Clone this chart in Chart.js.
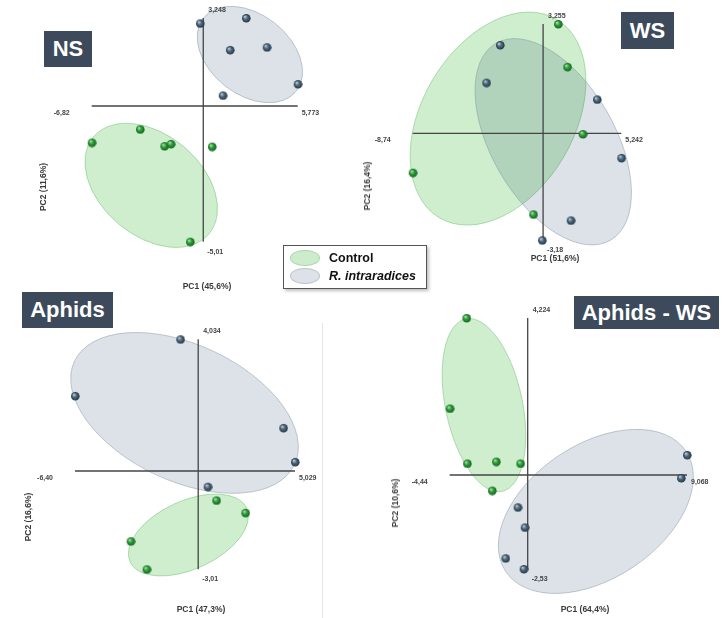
<!DOCTYPE html>
<html>
<head>
<meta charset="utf-8">
<script src="https://cdn.jsdelivr.net/npm/chart.js@4.4.1/dist/chart.umd.min.js"></script>
<style>
  body { margin: 0; width: 724px; height: 618px; background: #fff; position: relative; overflow: hidden;
         font-family: "Liberation Sans", Arial, sans-serif; }
  canvas.plot { position: absolute; left: 0; top: 0; }
  .panel-title { position: absolute; background: #3c4a5c; color: #fff; font-weight: bold; font-size: 22px;
                 display: flex; align-items: center; justify-content: center; white-space: nowrap; }
  .axis-title { position: absolute; font-size: 8.5px; font-weight: bold; color: #3a3a3a; white-space: nowrap;
                transform: translate(-50%, -50%); }
  .axis-title.v { transform: translate(-50%, -50%) rotate(-90deg); }
  .divider { position: absolute; left: 322px; top: 323px; width: 1px; height: 295px; background: #e6e6e6; }
  .legend { position: absolute; left: 283px; top: 245px; width: 142px; height: 42px; border: 1px solid #555;
            background: #fff; box-shadow: 2px 2px 3px rgba(0,0,0,0.25); }
  .legend .row { position: absolute; left: 6px; height: 16px; display: flex; align-items: center; }
  .legend .sw { width: 28px; height: 14px; border-radius: 50%; margin-right: 9px; }
  .legend .txt { font-size: 12.5px; font-weight: bold; color: #111; }
</style>
</head>
<body>
<canvas class="plot" id="ns" width="724" height="618"></canvas>
<canvas class="plot" id="ws" width="724" height="618"></canvas>
<canvas class="plot" id="aph" width="724" height="618"></canvas>
<canvas class="plot" id="aphws" width="724" height="618"></canvas>

<div class="divider"></div>

<div class="panel-title" style="left:44px;top:31px;width:48px;height:36px;">NS</div>
<div class="panel-title" style="left:621px;top:12px;width:53px;height:37px;">WS</div>
<div class="panel-title" style="left:22px;top:292px;width:91px;height:36px;">Aphids</div>
<div class="panel-title" style="left:574px;top:296px;width:145px;height:33px;">Aphids - WS</div>

<div class="axis-title" style="left:207px;top:286px;">PC1 (45,6%)</div>
<div class="axis-title v" style="left:43px;top:187px;">PC2 (11,6%)</div>
<div class="axis-title" style="left:555px;top:258px;">PC1 (51,6%)</div>
<div class="axis-title v" style="left:367px;top:186px;">PC2 (16,4%)</div>
<div class="axis-title" style="left:201px;top:609px;">PC1 (47,3%)</div>
<div class="axis-title v" style="left:28px;top:517px;">PC2 (16,6%)</div>
<div class="axis-title" style="left:585px;top:609px;">PC1 (64,4%)</div>
<div class="axis-title v" style="left:395px;top:503px;">PC2 (10,6%)</div>

<div class="legend">
  <div class="row" style="top:4px;"><div class="sw" style="background:#cdeccd;border:1px solid #a9d9a9;"></div><span class="txt">Control</span></div>
  <div class="row" style="top:22px;"><div class="sw" style="background:#dce2e7;border:1px solid #bcc4cc;"></div><span class="txt"><i>R. intraradices</i></span></div>
</div>

<script>
// ---- PCA scores (PC1, PC2) per treatment ----
// NS
const nsControlPC1 = [-3.87, -6.82, -2.38, -1.99, 0.53, -0.81];
const nsControlPC2 = [-0.86, -1.35, -1.48, -1.40, -1.50, -5.01];
const nsRiPC1 = [-0.20, 2.61, 1.63, 3.88, 5.773, 1.19];
const nsRiPC2 = [3.05, 3.248, 2.07, 2.17, 0.81, 0.39];
// WS
const wsControlPC1 = [1.00, 1.62, 2.65, -8.74, -0.66];
const wsControlPC2 = [3.255, 1.98, -0.02, -1.17, -2.41];
const wsRiPC1 = [-2.89, -3.81, 3.61, 5.242, 1.85, -0.07];
const wsRiPC2 = [2.63, 1.51, 1.01, -0.73, -2.59, -3.18];
// Aphids
const aphControlPC1 = [0.94, 2.45, -3.51, -2.68];
const aphControlPC2 = [-0.90, -1.28, -2.15, -3.01];
const aphRiPC1 = [-0.93, -6.40, 4.42, 5.029, 0.49];
const aphRiPC2 = [4.034, 2.30, 1.32, 0.28, -0.48];
// Aphids - WS
const awsControlPC1 = [-3.49, -4.44, -3.45, -1.80, -0.42, -2.03];
const awsControlPC2 = [4.224, 1.79, 0.31, 0.36, 0.31, -0.42];
const awsRiPC1 = [9.068, 8.73, -0.57, -0.17, -1.27, -0.23];
const awsRiPC2 = [0.54, -0.08, -0.87, -1.41, -2.24, -2.53];

// ---- axis extents [PC1 min, PC1 max, PC2 min, PC2 max] and their printed labels ----
const nsRange = [-6.82, 5.773, -5.01, 3.248];
const nsTickLabels = ['-6,82', '5,773', '-5,01', '3,248'];
const wsRange = [-8.74, 5.242, -3.18, 3.255];
const wsTickLabels = ['-8,74', '5,242', '-3,18', '3,255'];
const aphRange = [-6.40, 5.029, -3.01, 4.034];
const aphTickLabels = ['-6,40', '5,029', '-3,01', '4,034'];
const awsRange = [-4.44, 9.068, -2.53, 4.224];
const awsTickLabels = ['-4,44', '9,068', '-2,53', '4,224'];

// ---- group ellipses: centre and two conjugate semi-axes, in PC units [cx, cy, ux, uy, vx, vy] ----
const nsControlEllipse = [-3.18, -2.93, 3.53, -1.79, -1.99, -1.43];
const nsRiEllipse = [2.85, 1.90, 2.85, -1.34, -1.50, -1.17];
const wsControlEllipse = [-3.02, 0.44, 3.94, 2.95, 4.38, -1.16];
const wsRiEllipse = [0.68, -0.25, 3.84, -2.93, -3.57, -0.92];
const aphControlEllipse = [-0.51, -1.96, 3.03, 0.82, 0.74, -0.95];
const aphRiEllipse = [-0.71, 1.78, 5.72, -1.58, -1.50, -1.89];
const awsControlEllipse = [-2.49, 1.88, 1.04, -2.32, -2.14, -0.22];
const awsRiEllipse = [3.88, -0.98, 5.13, 1.62, 2.12, -1.50];

// ---- styling ----
const CONTROL_FILL = 'rgba(110, 205, 110, 0.34)';
const CONTROL_EDGE = 'rgba(120, 195, 120, 0.55)';
const RI_FILL = 'rgba(115, 138, 160, 0.25)';
const RI_EDGE = 'rgba(125, 140, 158, 0.45)';
const AXIS_COLOR = '#454545';

// Shaded ball marker used as the point style
function ball(light, mid, dark, r) {
  const c = document.createElement('canvas');
  c.width = c.height = 2 * r + 2;
  const g = c.getContext('2d');
  const o = r + 1;
  const grd = g.createRadialGradient(o - r * 0.35, o - r * 0.4, r * 0.1, o, o, r);
  grd.addColorStop(0, light);
  grd.addColorStop(0.45, mid);
  grd.addColorStop(1, dark);
  g.fillStyle = grd;
  g.beginPath();
  g.arc(o, o, r, 0, Math.PI * 2);
  g.fill();
  return c;
}
const greenBall = ball('#9be59b', '#2f9c3b', '#14621f', 4.3);
const slateBall = ball('#b4c6d3', '#4d687c', '#243644', 4.3);

function toPoints(xs, ys) { return xs.map((x, i) => ({ x, y: ys[i] })); }

function drawEllipse(ctx, xs, ys, e, fill, edge) {
  const [cx, cy, ux, uy, vx, vy] = e;
  const px = xs.getPixelForValue(cx), py = ys.getPixelForValue(cy);
  const a = xs.getPixelForValue(cx + ux) - px, b = ys.getPixelForValue(cy + uy) - py;
  const c = xs.getPixelForValue(cx + vx) - px, d = ys.getPixelForValue(cy + vy) - py;
  ctx.save();
  ctx.beginPath();
  ctx.save();
  ctx.transform(a, b, c, d, px, py);
  ctx.arc(0, 0, 1, 0, Math.PI * 2);
  ctx.restore();
  ctx.globalCompositeOperation = 'multiply';
  ctx.fillStyle = fill;
  ctx.fill();
  ctx.globalCompositeOperation = 'source-over';
  ctx.strokeStyle = edge;
  ctx.lineWidth = 1;
  ctx.stroke();
  ctx.restore();
}

// Draws group ellipses, the zero cross-hair and its end labels beneath the points
const pcaFrame = {
  id: 'pcaFrame',
  beforeDatasetsDraw(chart, args, opts) {
    const { ctx } = chart;
    const xs = chart.scales.x, ys = chart.scales.y;
    opts.ellipses.forEach(el => drawEllipse(ctx, xs, ys, el.e, el.fill, el.edge));

    const [x0, x1, y0, y1] = opts.range;
    const zx = xs.getPixelForValue(0), zy = ys.getPixelForValue(0);
    const l = xs.getPixelForValue(x0), r = xs.getPixelForValue(x1);
    const b = ys.getPixelForValue(y0), t = ys.getPixelForValue(y1);
    ctx.save();
    ctx.strokeStyle = AXIS_COLOR;
    ctx.lineWidth = 1.3;
    ctx.beginPath();
    ctx.moveTo(l, zy); ctx.lineTo(r, zy);
    ctx.moveTo(zx, t); ctx.lineTo(zx, b);
    ctx.stroke();

    const [lt, rt, bt, tt] = opts.labels;
    ctx.fillStyle = '#444';
    ctx.font = 'bold 7px "Liberation Sans", Arial, sans-serif';
    ctx.textBaseline = 'middle';
    ctx.textAlign = 'right';
    ctx.fillText(lt, l - 22, zy + 7);
    ctx.textAlign = 'left';
    ctx.fillText(rt, r + 4, zy + 7);
    ctx.fillText(tt, zx + 5, t - 8);
    ctx.fillText(bt, zx + 4, b + 10);
    ctx.restore();
  }
};

function pcaChart(id, frame, range, labels, ctrl, ri, ctrlEllipse, riEllipse) {
  const [L, R, T, B] = frame;
  return new Chart(document.getElementById(id), {
    type: 'scatter',
    data: {
      datasets: [
        { label: 'Control', data: ctrl, pointStyle: greenBall, clip: false },
        { label: 'R. intraradices', data: ri, pointStyle: slateBall, clip: false }
      ]
    },
    options: {
      responsive: false,
      animation: false,
      events: [],
      layout: { padding: { left: L, right: 724 - R, top: T, bottom: 618 - B } },
      scales: {
        x: { type: 'linear', min: range[0], max: range[1], display: false },
        y: { type: 'linear', min: range[2], max: range[3], display: false }
      },
      plugins: {
        legend: { display: false },
        tooltip: { enabled: false },
        pcaFrame: {
          range, labels,
          ellipses: [
            { e: ctrlEllipse, fill: CONTROL_FILL, edge: CONTROL_EDGE },
            { e: riEllipse, fill: RI_FILL, edge: RI_EDGE }
          ]
        }
      }
    },
    plugins: [pcaFrame]
  });
}

// Axis frames in page pixels: [left, right, top, bottom]
pcaChart('ns', [91.7, 297.7, 18, 241.7], nsRange, nsTickLabels,
  toPoints(nsControlPC1, nsControlPC2), toPoints(nsRiPC1, nsRiPC2), nsControlEllipse, nsRiEllipse);
pcaChart('ws', [412.7, 621.3, 24, 240.2], wsRange, wsTickLabels,
  toPoints(wsControlPC1, wsControlPC2), toPoints(wsRiPC1, wsRiPC2), wsControlEllipse, wsRiEllipse);
pcaChart('aph', [75, 295, 339.3, 569.3], aphRange, aphTickLabels,
  toPoints(aphControlPC1, aphControlPC2), toPoints(aphRiPC1, aphRiPC2), aphControlEllipse, aphRiEllipse);
pcaChart('aphws', [449.7, 687, 318, 569], awsRange, awsTickLabels,
  toPoints(awsControlPC1, awsControlPC2), toPoints(awsRiPC1, awsRiPC2), awsControlEllipse, awsRiEllipse);
</script>
</body>
</html>
